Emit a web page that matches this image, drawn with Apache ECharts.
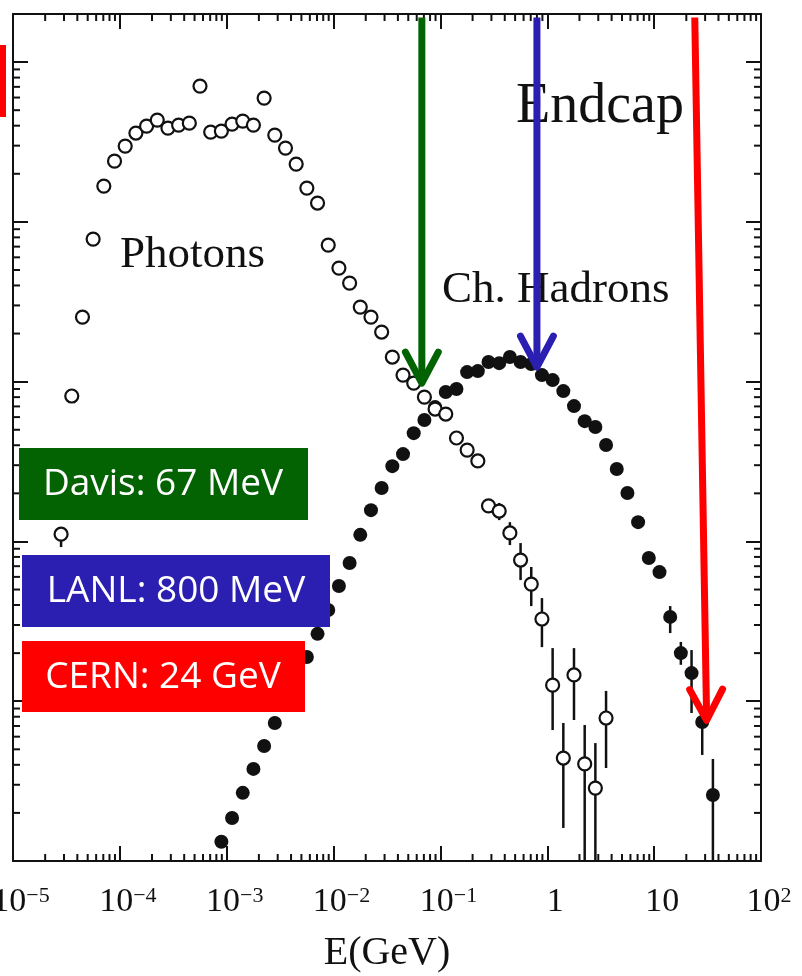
<!DOCTYPE html>
<html>
<head>
<meta charset="utf-8">
<script src="https://cdn.jsdelivr.net/npm/echarts@6/dist/echarts.min.js"></script>
<style>
  html, body { margin: 0; padding: 0; background: #fff; }
  #chart { width: 802px; height: 976px; }
</style>
</head>
<body>
<div id="chart"></div>
<script>
// photon spectrum (open circles), E in GeV, arbitrary y units
const photonE = [2.818e-5, 3.548e-5, 4.467e-5, 5.623e-5, 7.079e-5, 8.913e-5,
  1.122e-4, 1.413e-4, 1.778e-4, 2.239e-4, 2.818e-4, 3.548e-4, 4.467e-4, 5.623e-4, 7.079e-4, 8.913e-4,
  1.122e-3, 1.413e-3, 1.778e-3, 2.239e-3, 2.818e-3, 3.548e-3, 4.467e-3, 5.623e-3, 7.079e-3, 8.913e-3,
  1.122e-2, 1.413e-2, 1.778e-2, 2.239e-2, 2.818e-2, 3.548e-2, 4.467e-2, 5.623e-2, 7.079e-2, 8.913e-2,
  0.1122, 0.1413, 0.1778, 0.2239, 0.2818, 0.3548, 0.4467, 0.5623, 0.7079, 0.8913,
  1.122, 1.413, 1.778, 2.239, 2.818, 3.548]
const photonY = [111, 813, 2535, 7800, 16750, 23990,
  29810, 35970, 39740, 43350, 38640, 40360, 41500, 70750, 36480, 36990,
  40920, 42740, 40360, 59550, 34920, 28960, 23000, 16280, 13120, 7160,
  5140, 4140, 2930, 2535, 2044, 1426, 1099, 980, 801, 674,
  627, 444, 373, 319, 167, 155, 113, 76.5, 54.1, 32.7,
  12.6, 4.41, 14.6, 4.05, 2.86, 7.85]
// [E, low, high]
const photonErr = [[2.818e-5, 92.2, 123], [0.3548, 136, 174], [0.4467, 94.9, 132], [0.5623, 57.3, 97.7],
  [0.7079, 39.4, 69.2], [0.8913, 21.8, 44.2], [1.122, 6.6, 21.5], [1.413, 1.61, 7.31],
  [1.778, 7.63, 21.5], [2.239, 1, 7.1], [2.818, 1, 5.47], [3.548, 3.82, 11.6]]

// charged hadron spectrum (filled circles)
const hadronE = [8.913e-4,
  1.122e-3, 1.413e-3, 1.778e-3, 2.239e-3, 2.818e-3, 3.548e-3, 4.467e-3, 5.623e-3, 7.079e-3, 8.913e-3,
  1.122e-2, 1.413e-2, 1.778e-2, 2.239e-2, 2.818e-2, 3.548e-2, 4.467e-2, 5.623e-2, 7.079e-2, 8.913e-2,
  0.1122, 0.1413, 0.1778, 0.2239, 0.2818, 0.3548, 0.4467, 0.5623, 0.7079, 0.8913,
  1.122, 1.413, 1.778, 2.239, 2.818, 3.548, 4.467, 5.623, 7.079, 8.913,
  11.22, 14.13, 17.78, 22.39, 28.18, 35.48]
const hadronY = [1.32,
  1.86, 2.67, 3.77, 5.25, 7.31, 10.0, 13.6, 18.9, 26.4, 37.2,
  52.6, 73.3, 110, 157, 216, 296, 352, 476, 575, 693,
  861, 899, 1148, 1164, 1327, 1306, 1426, 1327, 1288, 1099,
  1023, 873, 703, 566, 520, 401, 284, 201, 132, 78.7,
  64.3, 33.7, 20.0, 15.0, 7.41, 2.59]
const hadronErr = [[14.13, 26.7, 39.4], [17.78, 16.9, 23.5], [22.39, 8.44, 20.9], [28.18, 4.61, 8.81], [35.48, 1, 4.35]]

// beam energies: [E at top, y at top, E at tip, y at tip]
const beamLabels = ['Davis: 67 MeV', 'LANL: 800 MeV', 'CERN: 24 GeV']
const beamArrows = [[0.067, 1.9e5, 0.067, 980], [0.8, 1.9e5, 0.8, 1234], [24, 1.9e5, 31, 7.6]]

const xTickValues = [1e-5, 1e-4, 1e-3, 1e-2, 1e-1, 1, 10, 100]
const xTickBase = ['10', '10', '10', '10', '10', '1', '10', '10']
const xTickExp = ['−5', '−4', '−3', '−2', '−1', '', '', '2']
const minorSteps = [2, 3, 4, 5, 6, 7, 8, 9]

const X_MIN = 1e-5, X_MAX = 100, Y_MIN = 1, Y_MAX = 2e5
const BEAM_COLORS = ['#036303', '#2a1fb1', '#ff0000']
const SERIF = 'Liberation Serif, Times New Roman, serif'
const INK = '#111'

// minor tick positions (2..9 in every decade)
const xMinor = []
for (let d = -5; d < 2; d++) minorSteps.forEach(m => xMinor.push([m * Math.pow(10, d), Y_MIN]))
const yMinor = []
for (let d = 0; d < 5; d++) minorSteps.forEach(m => yMinor.push([X_MIN, m * Math.pow(10, d)]))

const myChart = echarts.init(document.getElementById('chart'))

const axisBase = {
  type: 'log',
  logBase: 10,
  axisLine: { show: true, onZero: false, lineStyle: { color: INK, width: 2 } },
  axisTick: { show: true, inside: true, length: 15, lineStyle: { color: INK, width: 2 } },
  splitLine: { show: false },
  minorTick: { show: false }
}

const errorBarItem = (params, api) => {
  const p1 = api.coord([api.value(0), api.value(1)])
  const p2 = api.coord([api.value(0), api.value(2)])
  return {
    type: 'line',
    shape: { x1: p1[0], y1: p1[1], x2: p2[0], y2: p2[1] },
    style: { stroke: INK, lineWidth: 2.5 }
  }
}

myChart.setOption({
  animation: false,
  grid: { left: 13, right: 41, top: 14, bottom: 115, containLabel: false, outerBoundsMode: 'none' },
  xAxis: [
    Object.assign({}, axisBase, {
      position: 'bottom',
      min: X_MIN,
      max: X_MAX,
      name: 'E(GeV)',
      nameLocation: 'middle',
      nameGap: 72,
      nameTextStyle: { fontFamily: SERIF, fontSize: 40, color: INK },
      axisLabel: {
        show: true,
        margin: 24,
        padding: [0, 0, 0, 16],
        showMinLabel: true,
        showMaxLabel: true,
        hideOverlap: false,
        formatter: v => {
          const i = xTickValues.findIndex(t => Math.abs(Math.log10(t) - Math.log10(v)) < 1e-6)
          if (i < 0) return ''
          return xTickExp[i] ? `{b|${xTickBase[i]}}{s|${xTickExp[i]}}` : `{b|${xTickBase[i]}}`
        },
        rich: {
          b: { fontFamily: SERIF, fontSize: 34, lineHeight: 34, color: INK },
          s: { fontFamily: SERIF, fontSize: 22, lineHeight: 22, color: INK, verticalAlign: 'top' }
        }
      }
    }),
    Object.assign({}, axisBase, {
      position: 'top',
      min: X_MIN,
      max: X_MAX,
      axisLabel: { show: false }
    })
  ],
  yAxis: [
    Object.assign({}, axisBase, { position: 'left', min: Y_MIN, max: Y_MAX, axisLabel: { show: false } }),
    Object.assign({}, axisBase, { position: 'right', min: Y_MIN, max: Y_MAX, axisLabel: { show: false } })
  ],
  graphic: [
    { type: 'text', x: 120, y: 255, z: 1, style: { text: 'Photons', font: `45px ${SERIF}`, fill: INK, align: 'left', verticalAlign: 'middle' } },
    { type: 'text', x: 442, y: 290, z: 1, style: { text: 'Ch. Hadrons', font: `45px ${SERIF}`, fill: INK, align: 'left', verticalAlign: 'middle' } },
    { type: 'text', x: 516, y: 107, z: 1, style: { text: 'Endcap', font: `56px ${SERIF}`, fill: INK, align: 'left', verticalAlign: 'middle' } },
    { type: 'rect', z: 100, shape: { x: 0, y: 45, width: 6, height: 72 }, style: { fill: BEAM_COLORS[2] } },
    { type: 'rect', z: 100, shape: { x: 19, y: 448, width: 289, height: 72 }, style: { fill: BEAM_COLORS[0] } },
    { type: 'rect', z: 100, shape: { x: 22, y: 555, width: 308, height: 72 }, style: { fill: BEAM_COLORS[1] } },
    { type: 'rect', z: 100, shape: { x: 22, y: 641, width: 283, height: 71 }, style: { fill: BEAM_COLORS[2] } },
    { type: 'text', z: 101, x: 163, y: 484, style: { text: beamLabels[0], font: '37px "Open Sans"', fill: '#fff', align: 'center', verticalAlign: 'middle' } },
    { type: 'text', z: 101, x: 176, y: 591, style: { text: beamLabels[1], font: '37px "Open Sans"', fill: '#fff', align: 'center', verticalAlign: 'middle' } },
    { type: 'text', z: 101, x: 163, y: 677, style: { text: beamLabels[2], font: '37px "Open Sans"', fill: '#fff', align: 'center', verticalAlign: 'middle' } }
  ],
  series: [
    {
      name: 'x minor ticks',
      type: 'custom',
      z: 1,
      silent: true,
      clip: false,
      data: xMinor,
      renderItem: (params, api) => {
        const b = api.coord([api.value(0), Y_MIN])
        const t = api.coord([api.value(0), Y_MAX])
        const st = { stroke: INK, lineWidth: 2 }
        return {
          type: 'group',
          children: [
            { type: 'line', shape: { x1: b[0], y1: b[1], x2: b[0], y2: b[1] - 7 }, style: st },
            { type: 'line', shape: { x1: t[0], y1: t[1], x2: t[0], y2: t[1] + 7 }, style: st }
          ]
        }
      }
    },
    {
      name: 'y minor ticks',
      type: 'custom',
      z: 1,
      silent: true,
      clip: false,
      data: yMinor,
      renderItem: (params, api) => {
        const l = api.coord([X_MIN, api.value(1)])
        const r = api.coord([X_MAX, api.value(1)])
        const st = { stroke: INK, lineWidth: 2 }
        return {
          type: 'group',
          children: [
            { type: 'line', shape: { x1: l[0], y1: l[1], x2: l[0] + 7, y2: l[1] }, style: st },
            { type: 'line', shape: { x1: r[0], y1: r[1], x2: r[0] - 7, y2: r[1] }, style: st }
          ]
        }
      }
    },
    {
      name: 'hadron errors',
      type: 'custom',
      z: 2,
      silent: true,
      encode: { x: 0, y: [1, 2] },
      data: hadronErr,
      renderItem: errorBarItem
    },
    {
      name: 'photon errors',
      type: 'custom',
      z: 2,
      silent: true,
      encode: { x: 0, y: [1, 2] },
      data: photonErr,
      renderItem: errorBarItem
    },
    {
      name: 'Ch. Hadrons',
      type: 'scatter',
      z: 3,
      symbol: 'circle',
      symbolSize: 14,
      itemStyle: { color: INK, opacity: 1 },
      data: hadronE.map((e, i) => [e, hadronY[i]])
    },
    {
      name: 'Photons',
      type: 'scatter',
      z: 4,
      symbol: 'circle',
      symbolSize: 13,
      itemStyle: { color: '#fff', borderColor: INK, borderWidth: 2.2, opacity: 1 },
      data: photonE.map((e, i) => [e, photonY[i]])
    },
    {
      name: 'beam arrows',
      type: 'custom',
      z: 5,
      silent: true,
      clip: false,
      encode: { x: [0, 2], y: [1, 3] },
      data: beamArrows,
      renderItem: (params, api) => {
        const a = api.coord([api.value(0), api.value(1)])
        const b = api.coord([api.value(2), api.value(3)])
        const dx = b[0] - a[0], dy = b[1] - a[1]
        const len = Math.hypot(dx, dy)
        const bx = -dx / len, by = -dy / len
        const head = 35, ang = 28 * Math.PI / 180
        const wing = s => [
          b[0] + head * (bx * Math.cos(s * ang) - by * Math.sin(s * ang)),
          b[1] + head * (bx * Math.sin(s * ang) + by * Math.cos(s * ang))
        ]
        const color = BEAM_COLORS[params.dataIndex]
        return {
          type: 'group',
          children: [
            { type: 'line', shape: { x1: a[0], y1: a[1], x2: b[0], y2: b[1] }, style: { stroke: color, lineWidth: 7, lineCap: 'butt' } },
            { type: 'polyline', shape: { points: [wing(1), b, wing(-1)] }, style: { stroke: color, fill: null, lineWidth: 7, lineCap: 'round', lineJoin: 'round' } }
          ]
        }
      }
    }
  ]
})
</script>
</body>
</html>
